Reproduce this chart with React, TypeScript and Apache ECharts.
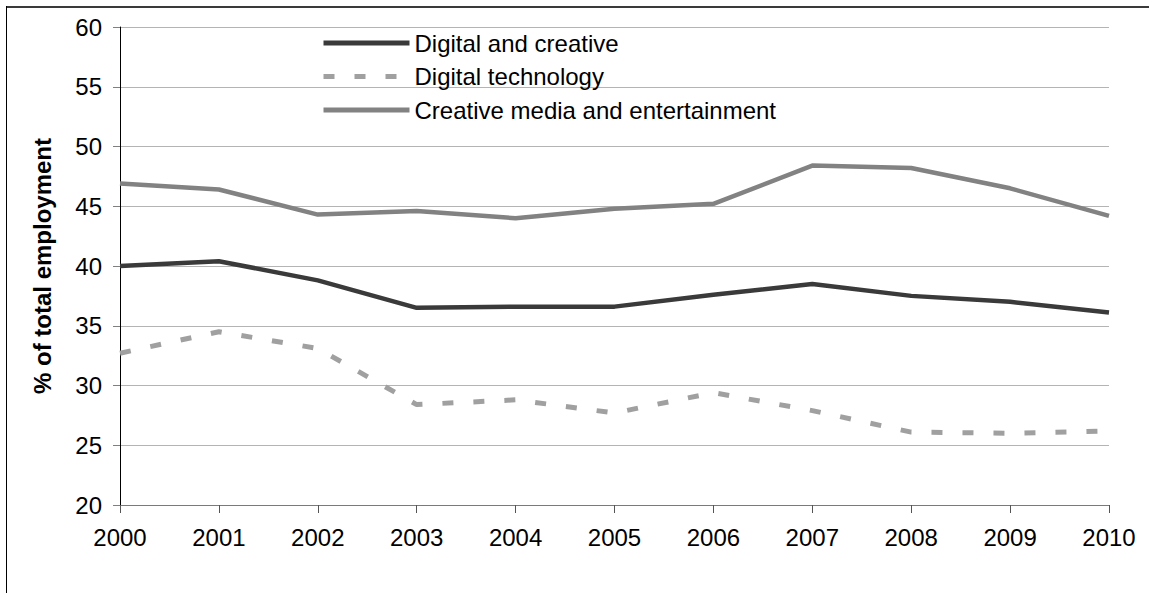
import React, { useEffect, useRef } from "react";
import * as echarts from "echarts";

const years = ["2000", "2001", "2002", "2003", "2004", "2005", "2006", "2007", "2008", "2009", "2010"];
const digitalCreative = [40.0, 40.4, 38.8, 36.5, 36.6, 36.6, 37.6, 38.5, 37.5, 37.0, 36.1];
const digitalTechnology = [32.7, 34.5, 33.1, 28.4, 28.8, 27.7, 29.4, 27.9, 26.1, 26.0, 26.2];
const creativeMedia = [46.9, 46.4, 44.3, 44.6, 44.0, 44.8, 45.2, 48.4, 48.2, 46.5, 44.2];
const seriesNames = ["Digital and creative", "Digital technology", "Creative media and entertainment"];

const FONT = "'Liberation Sans', Arial, sans-serif";

export default function App() {
  const ref = useRef<HTMLDivElement>(null);
  useEffect(() => {
    if (!ref.current) return;
    const chart = echarts.init(ref.current, undefined, { renderer: "svg" });
    chart.setOption({
      animation: false,
      backgroundColor: "#ffffff",
      textStyle: { fontFamily: FONT },
      grid: { left: 120, right: 40, top: 27, bottom: 88, containLabel: false },
      legend: {
        orient: "vertical",
        left: 321,
        top: 31,
        padding: 0,
        itemWidth: 86,
        itemHeight: 4,
        itemGap: 9.5,
        itemStyle: { opacity: 0 },
        lineStyle: { width: 5 },
        textStyle: { fontSize: 24, color: "#000", fontFamily: FONT, lineHeight: 24 },
        data: seriesNames,
      },
      graphic: [
        { type: "line", shape: { x1: 6, y1: 7, x2: 1149, y2: 7 }, style: { stroke: "#3a3a3a", lineWidth: 2 } },
        { type: "line", shape: { x1: 6.5, y1: 6, x2: 6.5, y2: 593 }, style: { stroke: "#000", lineWidth: 1 } },
      ],
      xAxis: {
        type: "category",
        data: years,
        boundaryGap: false,
        axisLine: { lineStyle: { color: "#7a7a7a", width: 1 } },
        axisTick: { show: true, length: 8, alignWithLabel: true, lineStyle: { color: "#555" } },
        axisLabel: { fontSize: 24, color: "#000", margin: 20, fontFamily: FONT },
        splitLine: { show: false },
      },
      yAxis: {
        type: "value",
        min: 20,
        max: 60,
        interval: 5,
        name: "% of total employment",
        nameLocation: "middle",
        nameGap: 66,
        nameTextStyle: { fontSize: 24, fontWeight: "bold", color: "#000", fontFamily: FONT },
        axisLine: { show: true, lineStyle: { color: "#000", width: 1 } },
        axisTick: { show: true, length: 7, lineStyle: { color: "#808080" } },
        axisLabel: { fontSize: 24, color: "#000", margin: 18, fontFamily: FONT },
        splitLine: { show: true, lineStyle: { color: "#b4b4b4", width: 1 } },
      },
      series: [
        {
          name: seriesNames[0],
          type: "line",
          data: digitalCreative,
          symbol: "none",
          lineStyle: { color: "#3a3a3a", width: 4.5 },
          itemStyle: { color: "#3a3a3a" },
          z: 4,
        },
        {
          name: seriesNames[1],
          type: "line",
          data: digitalTechnology,
          symbol: "none",
          lineStyle: { color: "#a0a0a0", width: 5, type: [11, 20], cap: "butt" },
          itemStyle: { color: "#a0a0a0" },
          z: 3,
        },
        {
          name: seriesNames[2],
          type: "line",
          data: creativeMedia,
          symbol: "none",
          lineStyle: { color: "#828282", width: 4.5 },
          itemStyle: { color: "#828282" },
          z: 3,
        },
      ],
    });
    return () => chart.dispose();
  }, []);
  return (
    <div
      ref={ref}
      style={{ position: "fixed", left: 0, top: 0, width: 1149, height: 593, background: "#fff" }}
    />
  );
}
